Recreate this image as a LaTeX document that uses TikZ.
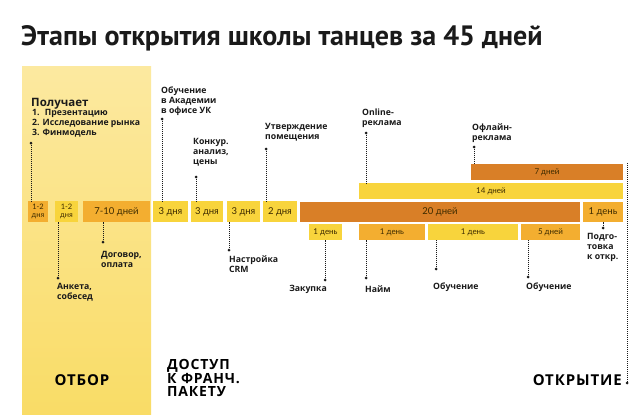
\documentclass[tikz,border=0pt]{standalone}
\usepackage{fontspec}
\setmainfont{Lato}
\newfontfamily\ttlfont{PT Sans}
\newfontfamily\labfont{Open Sans}
\newfontfamily\stgfont[LetterSpace=6]{Open Sans}
\newfontfamily\boxfont{Lato}
\definecolor{colYel}{HTML}{F8D43C}
\definecolor{colOr}{HTML}{F3AE30}
\definecolor{colDk}{HTML}{D97F27}
\definecolor{colTop}{HTML}{FCE9A0}
\definecolor{colBot}{HTML}{F9DC66}
\definecolor{boxtxt}{HTML}{3D2B00}
\definecolor{labtxt}{HTML}{1A1A1A}
\tikzset{
  tbox/.style={anchor=north west, inner sep=0pt, outer sep=0pt, text=boxtxt, align=center},
  bigf/.style={font=\boxfont\fontsize{9.5}{10}\selectfont},
  smf/.style={font=\boxfont\fontsize{8}{8.5}\selectfont},
  lab/.style={inner sep=0pt, anchor=west, align=left, text=labtxt, font=\labfont\bfseries\fontsize{8.7}{9.8}\selectfont},
  dotn/.style={circle, fill=labtxt, inner sep=0pt, minimum size=3pt},
  dline/.style={draw=labtxt, line width=0.7pt, dash pattern=on 1pt off 1pt},
  stage/.style={inner sep=0pt, text=black, font=\stgfont\bfseries\fontsize{15}{13}\selectfont, align=left}
}
\begin{document}
\begin{tikzpicture}[x=1pt,y=-1pt]
\useasboundingbox (0,0) rectangle (640,415);
\fill[white] (0,0) rectangle (640,415);
% title
\node[anchor=base west, inner sep=0pt, text=labtxt, font=\ttlfont\bfseries\fontsize{28}{30}\selectfont] (title) at (21,45) {Этапы открытия школы танцев за 45 дней};
% selection column
\shade[top color=colTop, bottom color=colBot] (22,66) rectangle (151,415);
% main row
\node[tbox, font=\boxfont\fontsize{7.5}{8}\selectfont, fill=colOr, minimum width=20pt, minimum height=21pt] (b1) at (28,201) {1-2\\дня};
\node[tbox, font=\boxfont\fontsize{7.5}{8}\selectfont, fill=colYel, minimum width=23pt, minimum height=21pt] (b2) at (55,201) {1-2\\дня};
\node[tbox, bigf, fill=colOr, minimum width=67pt, minimum height=21pt] (b3) at (83,201) {7-10 дней};
\node[tbox, bigf, fill=colYel, minimum width=35pt, minimum height=21pt] (b4) at (153,201) {3 дня};
\node[tbox, bigf, fill=colYel, minimum width=32pt, minimum height=21pt] (b5) at (191,201) {3 дня};
\node[tbox, bigf, fill=colYel, minimum width=33pt, minimum height=21pt] (b6) at (227,201) {3 дня};
\node[tbox, bigf, fill=colYel, minimum width=34pt, minimum height=21pt] (b7) at (263,201) {2 дня};
\node[tbox, bigf, fill=colDk, minimum width=280pt, minimum height=20pt] (b20) at (300,202) {20 дней};
\node[tbox, bigf, fill=colOr, minimum width=40pt, minimum height=20pt] (b1d) at (583,202) {1 день};
% upper rows
\node[tbox, smf, fill=colYel, minimum width=264pt, minimum height=16pt] (b14) at (359,183) {14 дней};
\node[tbox, smf, fill=colDk, minimum width=152pt, minimum height=16pt] (b7d) at (471,164) {7 дней};
% lower row
\node[tbox, smf, fill=colYel, minimum width=33pt, minimum height=16pt] (l1) at (309,224) {1 день};
\node[tbox, smf, fill=colOr, minimum width=66pt, minimum height=16pt] (l2) at (359,224) {1 день};
\node[tbox, smf, fill=colYel, minimum width=90pt, minimum height=16pt] (l3) at (428,224) {1 день};
\node[tbox, smf, fill=colOr, minimum width=59pt, minimum height=16pt] (l4) at (521,224) {5 дней};
% dots
\node[dotn] (d1) at (31,143) {};
\node[dotn] (d2) at (58,278) {};
\node[dotn] (d3) at (103,242) {};
\node[dotn] (d4) at (162,119) {};
\node[dotn] (d5) at (196,177) {};
\node[dotn] (d6) at (229,250) {};
\node[dotn] (d7) at (266,149) {};
\node[dotn] (d8) at (366,133) {};
\node[dotn] (d9) at (474,147) {};
\node[dotn] (d10) at (603,228) {};
\node[dotn] (d11) at (325,280) {};
\node[dotn] (d12) at (366,278) {};
\node[dotn] (d13) at (436,269) {};
\node[dotn] (d14) at (528,277) {};
\node[dotn] (d15) at (627,383) {};
\coordinate (bigtop) at (627,163);
% connectors
\draw[dline] (d1) -- (d1 |- b1.north);
\draw[dline] (d2) -- (d2 |- b2.south);
\draw[dline] (d3) -- (d3 |- b3.south);
\draw[dline] (d4) -- (d4 |- b4.north);
\draw[dline] (d5) -- (d5 |- b5.north);
\draw[dline] (d6) -- (d6 |- b6.south);
\draw[dline] (d7) -- (d7 |- b7.north);
\draw[dline] (d8) -- (d8 |- b14.north);
\draw[dline] (d9) -- (d9 |- b7d.north);
\draw[dline] (d10) -- (d10 |- b1d.south);
\draw[dline] (d11) -- (d11 |- l1.south);
\draw[dline] (d12) -- (d12 |- l2.south);
\draw[dline] (d13) -- (d13 |- l3.south);
\draw[dline] (d14) -- (d14 |- l4.south);
\draw[dline] (bigtop) -- (d15);
% labels
\node[lab, font=\labfont\bfseries\fontsize{11.5}{12}\selectfont] (t1h) at (31,104) {Получает};
\node[lab] (t1) at (32,123.5) {1.~ Презентацию\\2. Исследование рынка\\3. Финмодель};
\node[lab] (t4) at (161,101.5) {Обучение\\в Академии\\в офисе УК};
\node[lab] (t5) at (193,152) {Конкур.\\анализ,\\цены};
\node[lab] (t7) at (265,132) {Утверждение\\помещения};
\node[lab] (t8) at (362,118) {Online-\\реклама};
\node[lab] (t9) at (472,133) {Офлайн-\\реклама};
\node[lab] (t2) at (57,292) {Анкета,\\собесед};
\node[lab] (t3) at (101,259.5) {Договор,\\оплата};
\node[lab] (t6) at (229,264.5) {Настройка\\CRM};
\node[lab, anchor=east] (t11) at (327,289) {Закупка};
\node[lab] (t12) at (365,289) {Найм};
\node[lab] (t13) at (433,287) {Обучение};
\node[lab] (t14) at (526,287) {Обучение};
\node[lab] (t10) at (587,247.5) {Подго-\\товка\\к откр.};
% stages
\node[stage, anchor=center] (s1) at (82,380) {ОТБОР};
\node[stage, font=\stgfont\bfseries\fontsize{14}{13}\selectfont, anchor=west] (s2) at (167,378) {ДОСТУП\\К ФРАНЧ.\\ПАКЕТУ};
\node[stage, anchor=east] (s3) at (622,380) {ОТКРЫТИЕ};
\end{tikzpicture}
\end{document}
